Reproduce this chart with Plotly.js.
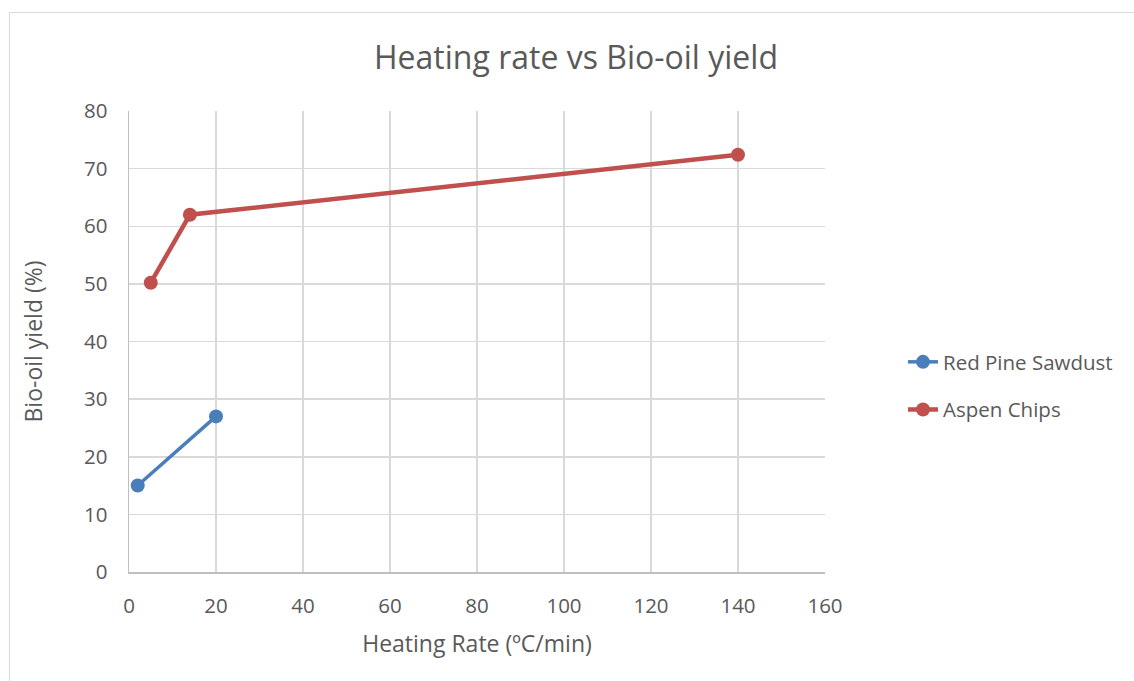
<!DOCTYPE html>
<html>
<head>
<meta charset="utf-8">
<script src="https://cdn.plot.ly/plotly-3.0.1.min.js"></script>
<style>
  html, body { margin: 0; padding: 0; background: #fff; }
  #frame { position: absolute; left: 0; top: 0; width: 1134px; height: 681px; }
  #border { position: absolute; left: 9px; top: 12px; right: 0; bottom: 0;
            border-left: 1px solid #d9d9d9; border-top: 1px solid #d9d9d9; pointer-events: none; }
  #chart { position: absolute; left: 0; top: 0; width: 1134px; height: 681px; }
</style>
</head>
<body>
<div id="frame">
  <div id="chart"></div>
  <div id="border"></div>
</div>
<script>
// Heating rate (ºC/min) and bio-oil yield (%) for each feedstock
const pineRate  = [2, 20];
const pineYield = [15, 27];
const aspenRate  = [5, 14, 140];
const aspenYield = [50.2, 62, 72.4];

const xTicks = [0, 20, 40, 60, 80, 100, 120, 140, 160];
const yTicks = [0, 10, 20, 30, 40, 50, 60, 70, 80];

const FONT = "Open Sans, Noto Sans, sans-serif";
const TEXT = "#595959";

const traces = [
  {
    x: pineRate, y: pineYield, name: "Red Pine Sawdust", legendgroup: "pine",
    type: "scatter", mode: "lines+markers",
    line: { color: "#4a7ebb", width: 3.5 },
    marker: { color: "#4a7ebb", size: 14 }
  },
  {
    x: aspenRate, y: aspenYield, name: "Aspen Chips", legendgroup: "aspen",
    type: "scatter", mode: "lines+markers",
    line: { color: "#c0504d", width: 4.5 },
    marker: { color: "#c0504d", size: 14 }
  }
];

const layout = {
  width: 1134, height: 681,
  margin: { l: 129, r: 309, t: 111, b: 109 },
  paper_bgcolor: "#ffffff", plot_bgcolor: "#ffffff",
  font: { family: FONT, color: TEXT, size: 20 },
  title: {
    text: "Heating rate vs Bio-oil yield",
    font: { family: FONT, size: 32, color: TEXT },
    x: 576 / 1134, xref: "container", xanchor: "center",
    y: 1 - 58 / 681, yref: "container", yanchor: "middle"
  },
  xaxis: {
    range: [0, 160], tickvals: xTicks, ticktext: xTicks.map(String),
    showgrid: true, gridcolor: "#d9d9d9", gridwidth: 1.5,
    zeroline: false, showline: true, linecolor: "#bfbfbf", linewidth: 1.5,
    ticks: "", ticklen: 0, ticklabelstandoff: 15,
    tickfont: { size: 20.5, color: TEXT, family: FONT },
    title: { text: "Heating Rate (ºC/min)", font: { size: 23, color: TEXT, family: FONT }, standoff: 18 },
    fixedrange: true
  },
  yaxis: {
    range: [0, 80], tickvals: yTicks, ticktext: yTicks.map(String),
    showgrid: true, gridcolor: "#d9d9d9", gridwidth: 1.5,
    zeroline: false, showline: true, linecolor: "#bfbfbf", linewidth: 1.5,
    ticks: "", ticklen: 0, ticklabelstandoff: 16,
    tickfont: { size: 20.5, color: TEXT, family: FONT },
    title: { text: "Bio-oil yield (%)", font: { size: 23, color: TEXT, family: FONT }, standoff: 35 },
    fixedrange: true
  },
  showlegend: true,
  legend: {
    x: (903 - 129) / 696, xref: "paper", xanchor: "left",
    y: (572 - 386) / 461, yanchor: "middle",
    font: { size: 20.5, color: TEXT, family: FONT },
    bgcolor: "rgba(0,0,0,0)", tracegroupgap: 18
  }
};

Plotly.newPlot("chart", traces, layout, { displayModeBar: false, staticPlot: true });
</script>
</body>
</html>
